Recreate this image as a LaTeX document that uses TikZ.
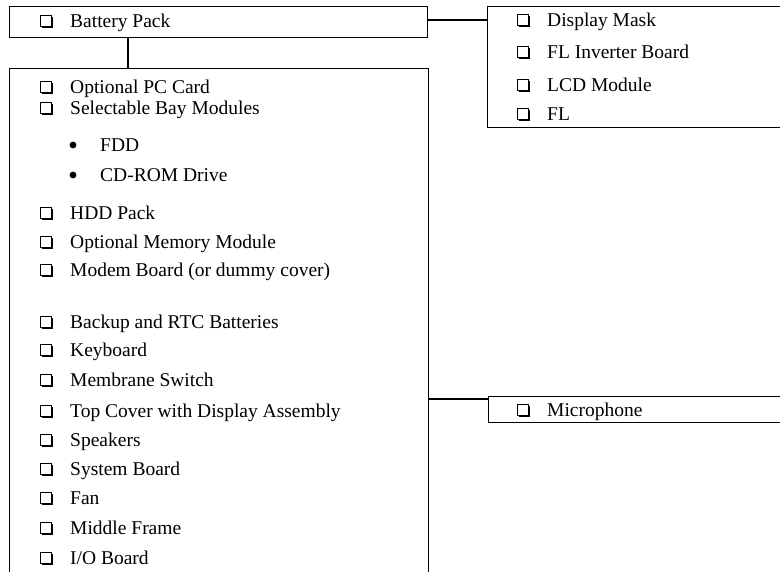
\documentclass[tikz,border=0pt]{standalone}
\usepackage{fontspec}
\setmainfont{Liberation Serif}
\usetikzlibrary{calc}
\tikzset{
  frame/.style={draw, line width=1.2pt, rectangle, inner sep=0pt, anchor=north west},
  lbl/.style={anchor=base west, inner sep=0pt, font=\fontsize{19.5}{22}\selectfont},
  conn/.style={line width=1.6pt},
}
\newcommand\chkbx[2]{%
  \draw[line width=1.1pt] (#1-5.5,#2-5.5) rectangle (#1+5.5,#2+5.5);
  \draw[line width=2pt] (#1-4.5,#2+6.3) -- (#1+6.3,#2+6.3) -- (#1+6.3,#2-4.5);
}
\newcommand\itm[4]{% name, xbox, y, text
  \chkbx{#2}{#3}
  \node[lbl] (#1) at (#2+24,#3+6.5) {#4};
}
\begin{document}
\begin{tikzpicture}[x=1pt,y=-1pt]
\useasboundingbox (0,0) rectangle (780,571);
\clip (0,0) rectangle (780,571);
\fill[white] (0,0) rectangle (780,571);
% boxes
\node[frame, minimum width=418pt, minimum height=31pt] (battery) at (9,6) {};
\node[frame, minimum width=419pt, minimum height=600pt] (main) at (9,68) {};
\node[frame, minimum width=400pt, minimum height=121pt] (display) at (487,6) {};
\node[frame, minimum width=400pt, minimum height=26pt] (mic) at (488,396) {};
% connectors
\draw[conn] ([yshift=2pt]battery.east) -- ([yshift=2pt]battery.east -| display.west);
\draw[conn] ([xshift=119pt]battery.south west) -- ([xshift=119pt]battery.south west |- main.north);
\draw[conn] ([yshift=-3pt]mic.north west -| main.east) -- ([yshift=-3pt]mic.north west);
% battery
\itm{tbattery}{46}{21}{Battery Pack}
% display
\itm{tmask}{523}{20}{Display Mask}
\itm{tinv}{523}{52}{FL Inverter Board}
\itm{tlcd}{523}{85}{LCD Module}
\itm{tfl}{523}{114}{FL}
% mic
\itm{tmic}{523}{410}{Microphone}
% main
\itm{tpc}{46}{87}{Optional PC Card}
\itm{tbay}{46}{108}{Selectable Bay Modules}
\fill (73,145) circle (3.4);
\node[lbl] (tfdd) at (100,151.5) {FDD};
\fill (73,175) circle (3.4);
\node[lbl] (tcd) at (100,181.5) {CD-ROM Drive};
\itm{thdd}{46}{213}{HDD Pack}
\itm{tmem}{46}{242}{Optional Memory Module}
\itm{tmodem}{46}{270}{Modem Board (or dummy cover)}
\itm{tbackup}{46}{322}{Backup and RTC Batteries}
\itm{tkey}{46}{350}{Keyboard}
\itm{tmemb}{46}{380}{Membrane Switch}
\itm{ttop}{46}{411}{Top Cover with Display Assembly}
\itm{tspk}{46}{440}{Speakers}
\itm{tsys}{46}{469}{System Board}
\itm{tfan}{46}{498}{Fan}
\itm{tmid}{46}{528}{Middle Frame}
\itm{tio}{46}{558}{I/O Board}
\end{tikzpicture}
\end{document}
